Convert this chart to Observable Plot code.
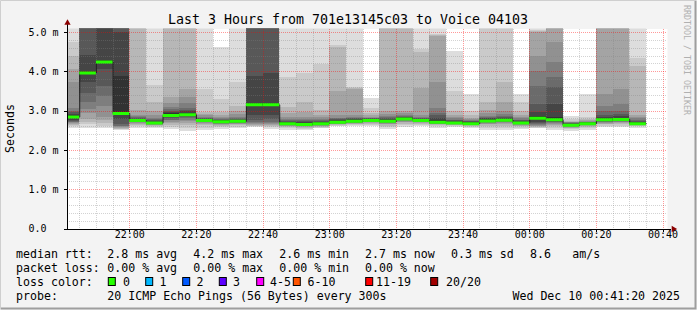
<!DOCTYPE html>
<html><head><meta charset="utf-8">
<script src="https://cdn.jsdelivr.net/npm/d3@7"></script>
<script src="https://cdn.jsdelivr.net/npm/@observablehq/plot@0.6"></script>
<style>
html,body{margin:0;padding:0;background:#f3f3f3;}
#chart{width:697px;height:310px;position:relative;overflow:hidden;}
#chart svg{position:absolute;left:0;top:0;}
</style></head><body><div id="chart"></div>
<script>
// ---- data ----
const stepStarts = ["21:40","21:45","21:50","21:55","22:00","22:05","22:10","22:15","22:20","22:25","22:30","22:35",
  "22:40","22:45","22:50","22:55","23:00","23:05","23:10","23:15","23:20","23:25","23:30","23:35",
  "23:40","23:45","23:50","23:55","00:00","00:05","00:10","00:15","00:20","00:25","00:30"];
const medians = [2.85,3.97,4.25,2.94,2.76,2.70,2.89,2.91,2.76,2.73,2.74,3.16,3.16,2.68,2.66,2.68,2.72,2.74,
  2.76,2.74,2.80,2.76,2.72,2.70,2.68,2.75,2.77,2.70,2.82,2.78,2.64,2.68,2.78,2.79,2.68];
const pings = [
  [2.55,2.60,2.64,2.67,2.69,2.70,2.71,2.73,2.76,2.84,2.88,2.92,2.96,3.00,3.07,3.74,4.05,4.40,4.75,5.40],
  [2.56,2.66,2.70,2.79,2.95,3.04,3.21,3.46,3.72,3.95,4.00,4.42,5.20,5.35,5.50,5.70,5.90,6.20,6.60,7.20],
  [2.55,2.62,2.68,2.75,2.83,3.13,3.38,3.63,4.06,4.23,4.30,5.20,5.30,5.45,5.60,5.80,6.00,6.30,6.70,7.30],
  [2.50,2.52,2.54,2.56,2.58,2.60,2.62,2.66,2.79,2.93,3.89,5.00,5.20,5.35,5.50,5.70,5.90,6.20,6.60,7.20],
  [2.55,2.60,2.64,2.67,2.69,2.70,2.71,2.72,2.74,2.75,2.78,2.79,2.80,2.83,2.87,2.90,3.02,5.30,5.60,6.00],
  [2.56,2.59,2.61,2.63,2.64,2.65,2.66,2.67,2.68,2.69,2.72,2.74,2.76,2.79,2.82,2.90,3.00,3.22,3.66,5.50],
  [2.52,2.58,2.64,2.69,2.72,2.75,2.77,2.80,2.84,2.88,2.93,2.97,3.00,3.04,3.10,3.20,3.34,5.30,5.60,6.00],
  [2.48,2.56,2.63,2.69,2.73,2.77,2.80,2.83,2.86,2.90,2.95,2.98,3.02,3.07,3.20,3.35,3.55,5.30,5.60,6.00],
  [2.50,2.57,2.63,2.67,2.69,2.70,2.71,2.72,2.74,2.75,2.78,2.79,2.80,2.82,2.84,2.88,2.92,2.96,3.55,5.50],
  [2.53,2.58,2.62,2.64,2.66,2.67,2.68,2.69,2.71,2.72,2.75,2.76,2.77,2.78,2.80,2.84,2.88,2.96,3.30,4.63],
  [2.55,2.59,2.63,2.65,2.67,2.68,2.69,2.70,2.72,2.73,2.76,2.77,2.79,2.81,2.85,2.92,3.00,3.13,3.72,5.50],
  [2.58,2.60,2.62,2.64,2.66,2.68,2.72,2.77,2.88,3.14,3.20,3.87,5.20,5.35,5.50,5.70,5.90,6.20,6.60,7.20],
  [2.53,2.58,2.61,2.64,2.66,2.68,2.72,2.78,2.90,3.14,3.20,3.95,5.20,5.35,5.50,5.70,5.90,6.20,6.60,7.20],
  [2.50,2.55,2.58,2.60,2.62,2.63,2.64,2.65,2.66,2.67,2.70,2.72,2.73,2.75,2.78,2.83,2.95,3.08,3.85,5.50],
  [2.50,2.54,2.57,2.59,2.61,2.62,2.63,2.64,2.65,2.66,2.68,2.71,2.73,2.75,2.78,2.85,2.96,3.21,3.97,5.50],
  [2.55,2.57,2.59,2.61,2.62,2.63,2.64,2.65,2.66,2.67,2.70,2.72,2.74,2.76,2.79,2.84,2.90,3.02,4.18,5.50],
  [2.60,2.62,2.64,2.65,2.66,2.67,2.68,2.69,2.70,2.71,2.74,2.76,2.78,2.80,2.82,2.88,3.51,4.62,4.68,5.50],
  [2.60,2.63,2.65,2.67,2.68,2.69,2.70,2.71,2.72,2.73,2.76,2.78,2.80,2.82,2.85,2.90,3.55,3.57,3.59,5.50],
  [2.60,2.64,2.67,2.69,2.70,2.71,2.72,2.73,2.74,2.75,2.78,2.79,2.80,2.81,2.82,2.84,2.88,2.95,3.07,3.32],
  [2.53,2.58,2.62,2.65,2.67,2.69,2.70,2.71,2.72,2.73,2.76,2.78,2.80,2.83,2.87,2.92,3.00,5.30,5.60,6.00],
  [2.58,2.63,2.67,2.70,2.72,2.74,2.76,2.77,2.78,2.79,2.82,2.84,2.85,2.87,2.90,2.95,3.00,5.30,5.60,6.00],
  [2.60,2.63,2.66,2.68,2.70,2.71,2.72,2.73,2.74,2.75,2.78,2.79,2.80,2.82,2.84,2.88,3.58,4.50,4.57,5.50],
  [2.55,2.60,2.63,2.65,2.66,2.67,2.68,2.69,2.70,2.71,2.76,2.82,2.88,2.95,3.07,3.74,4.90,4.93,4.95,5.50],
  [2.58,2.61,2.63,2.64,2.65,2.66,2.67,2.68,2.69,2.69,2.72,2.73,2.75,2.77,2.80,2.84,2.90,2.98,3.50,4.53],
  [2.55,2.58,2.61,2.63,2.64,2.65,2.66,2.67,2.67,2.68,2.70,2.72,2.73,2.74,2.76,2.78,2.82,2.88,3.00,3.43],
  [2.50,2.57,2.62,2.65,2.67,2.69,2.70,2.71,2.73,2.74,2.78,2.80,2.82,2.84,2.87,2.93,3.02,3.23,5.40,5.80],
  [2.50,2.57,2.62,2.66,2.69,2.71,2.72,2.73,2.75,2.76,2.79,2.81,2.84,2.87,2.92,3.00,3.21,3.72,5.40,5.80],
  [2.53,2.57,2.60,2.62,2.64,2.65,2.66,2.67,2.68,2.69,2.72,2.74,2.75,2.77,2.80,2.84,2.90,3.00,3.21,3.42],
  [2.55,2.57,2.59,2.61,2.62,2.64,2.66,2.68,2.72,2.80,2.86,2.96,3.17,3.63,4.00,4.40,5.00,5.03,5.05,5.50],
  [2.50,2.56,2.60,2.63,2.66,2.68,2.70,2.72,2.74,2.77,2.83,3.17,3.60,3.85,4.23,4.74,5.30,5.50,5.80,6.20],
  [2.47,2.52,2.55,2.57,2.59,2.60,2.61,2.62,2.63,2.64,2.66,2.67,2.68,2.69,2.70,2.71,2.72,2.74,2.78,2.86],
  [2.50,2.55,2.58,2.61,2.63,2.64,2.65,2.66,2.67,2.68,2.69,2.70,2.70,2.71,2.72,2.73,2.75,2.78,2.83,3.42],
  [2.58,2.62,2.65,2.67,2.69,2.71,2.72,2.74,2.76,2.77,2.81,2.85,2.90,2.98,3.12,3.43,5.30,5.50,5.80,6.20],
  [2.58,2.62,2.65,2.68,2.70,2.72,2.73,2.75,2.77,2.78,2.82,2.87,2.92,2.98,3.17,3.55,5.30,5.50,5.80,6.20],
  [2.57,2.60,2.62,2.63,2.64,2.65,2.66,2.66,2.67,2.67,2.70,2.72,2.74,2.77,2.80,2.84,2.90,4.14,4.34,5.50]
];
const yTickValues = [0, 1, 2, 3, 4, 5];
const yTickLabels = ["0.0", "1.0 m", "2.0 m", "3.0 m", "4.0 m", "5.0 m"];
const xTickLabels = ["22:00","22:20","22:40","23:00","23:20","23:40","00:00","00:20","00:40"];
const lossColors = [["0","#26ff00"],["1","#00b8ff"],["2","#0059ff"],["3","#5e00ff"],["4-5","#ff00ff"],["6-10","#ff5500"],["11-19","#ff0000"],["20/20","#a00000"]];
const titleText = "Last 3 Hours from 701e13145c03 to Voice 04103";
const yLabel = "Seconds";

// ---- helpers ----
const toDate = hm => { const [h, m] = hm.split(":").map(Number); return new Date(Date.UTC(2025, 11, h < 12 ? 10 : 9, h, m)); };
const tStart = new Date(Date.UTC(2025, 11, 9, 21, 41, 20));
const tEnd = new Date(Date.UTC(2025, 11, 10, 0, 41, 20));
const pxMs = 39.29;
const yTop = 200 / pxMs;
const STEP = 300000;
const pxT = 18000; // one pixel in ms of time (600 px for 3 h)
const shade = i => { const v = Math.floor(190 / 10 * (10 - i)) + 50; return `rgb(${v},${v},${v})`; };

const smoke = [];
stepStarts.forEach((s, c) => {
  const t0 = toDate(s), t1 = new Date(+t0 + STEP), p = pings[c];
  for (let i = 1; i <= 10; i++) smoke.push({t0, t1, lo: p[i - 1], hi: p[20 - i], fill: shade(i)});
});
const med = stepStarts.map((s, c) => ({t0: toDate(s), t1: new Date(+toDate(s) + STEP), v: medians[c]}));
const medLine = med.map(d => ({t: d.t0, v: d.v})).concat([{t: med[med.length - 1].t1, v: medians[medians.length - 1]}]);

const xMajor = xTickLabels.map(toDate);
const xMinor = [];
for (let t = +toDate("21:45"); t <= +tEnd; t += STEP) if (!xMajor.some(d => +d === t)) xMinor.push(new Date(t));
const yMinor = d3.range(1, 26).map(k => k / 5).filter(v => Math.abs(v - Math.round(v)) > 1e-6);

const FONT = "DejaVu Sans Mono";
const svg = Plot.plot({
  width: 697, height: 310,
  marginLeft: 67, marginRight: 30, marginTop: 28.5, marginBottom: 81.5,
  style: {background: "transparent", fontFamily: FONT, overflow: "visible"},
  x: {type: "utc", domain: [tStart, tEnd], axis: null},
  y: {domain: [0, yTop], axis: null},
  marks: [
    Plot.frame({fill: "#ffffff", stroke: "none"}),
    Plot.rect(smoke, {x1: "t0", x2: "t1", y1: "lo", y2: "hi", fill: "fill", clip: true, shapeRendering: "crispEdges"}),
    Plot.ruleY(yMinor, {stroke: "#808080", strokeOpacity: 0.35, strokeDasharray: "1,1", shapeRendering: "crispEdges"}),
    Plot.ruleX(xMinor, {stroke: "#808080", strokeOpacity: 0.35, strokeDasharray: "1,1", shapeRendering: "crispEdges"}),
    Plot.ruleY(yTickValues.slice(1), {stroke: "#ff0000", strokeOpacity: 0.4, strokeDasharray: "1,1", shapeRendering: "crispEdges"}),
    Plot.ruleX(xMajor, {stroke: "#ff0000", strokeOpacity: 0.4, strokeDasharray: "1,1", shapeRendering: "crispEdges"}),
    Plot.line(medLine, {x: "t", y: "v", curve: "step-after", stroke: "#202020", strokeWidth: 1, clip: true}),
    Plot.ruleY(med, {y: "v", x1: "t0", x2: "t1", stroke: "#26ff00", strokeWidth: 3, clip: true}),
    // axes
    Plot.ruleY([0], {stroke: "#000", insetRight: -4, shapeRendering: "crispEdges"}),
    Plot.ruleX([tStart], {stroke: "#000", insetTop: -5, shapeRendering: "crispEdges"}),
    Plot.ruleY(yTickValues, {y: d => d, x1: new Date(+tStart - 3 * pxT), x2: tStart, stroke: "#000", shapeRendering: "crispEdges"}),
    Plot.ruleX(xMajor, {x: d => d, y1: -3 / pxMs, y2: 0, stroke: "#000", shapeRendering: "crispEdges"}),
    Plot.dot([tStart], {x: d => d, y: yTop, symbol: "triangle2", r: 3, fill: "#8b0000", stroke: "none", dy: -6}),
    Plot.dot([tEnd], {x: d => d, y: 0, symbol: "triangle2", r: 3, fill: "#8b0000", stroke: "none", rotate: 90, dx: 6}),
    Plot.text(yTickValues, {y: d => d, text: (d, i) => yTickLabels[i], frameAnchor: "left", textAnchor: "start", dx: -39, fontSize: 10, fill: "#000", fontFamily: FONT}),
    Plot.text(xMajor, {x: d => d, text: (d, i) => xTickLabels[i], frameAnchor: "bottom", dy: 8.5, fontSize: 10, fill: "#000", fontFamily: FONT})
  ]
});
document.getElementById("chart").appendChild(svg);

// ---- title, labels, legend ----
const g = d3.select(svg).append("g").attr("font-family", FONT).attr("fill", "#000").attr("text-anchor", "start");
g.append("text").attr("x", 348).attr("y", 24).attr("text-anchor", "middle").attr("font-size", 13.3).text(titleText);
g.append("text").attr("transform", "translate(14,128.5) rotate(-90)").attr("text-anchor", "middle").attr("font-size", 11.6).text(yLabel);
g.append("text").attr("transform", "translate(684,5) rotate(90)").attr("text-anchor", "start").attr("font-size", 8.3).attr("fill", "#b0b0b0").text("RRDTOOL / TOBI OETIKER");

const FS = 11.6;
const row = (y, items) => items.forEach(([x, t]) => g.append("text").attr("x", x).attr("y", y).attr("text-anchor", "start").attr("font-size", FS).text(t));
row(257.5, [[16, "median rtt:"], [107.3, "2.8 ms avg"], [193.3, "4.2 ms max"], [279.3, "2.6 ms min"], [365, "2.7 ms now"], [451, "0.3 ms sd"], [530, "8.6"], [572.3, "am/s"]]);
row(272, [[16, "packet loss:"], [107.3, "0.00 % avg"], [193.3, "0.00 % max"], [279.3, "0.00 % min"], [365, "0.00 % now"]]);
row(286.2, [[16, "loss color:"]]);
const boxX = [108.3, 145.7, 182.7, 219.3, 256.7, 293.3, 365.7, 430.7];
const labX = [123, 159.5, 196.5, 233, 270, 307.5, 376, 446];
lossColors.forEach(([lab, col], i) => {
  g.append("rect").attr("x", boxX[i]).attr("y", 277.5).attr("width", 7).attr("height", 8).attr("fill", col).attr("stroke", "#000").attr("stroke-width", 1);
  g.append("text").attr("x", labX[i]).attr("y", 286.2).attr("text-anchor", "start").attr("font-size", FS).text(lab);
});
row(300.4, [[16, "probe:"], [107.3, "20 ICMP Echo Pings (56 Bytes) every 300s"]]);
g.append("text").attr("x", 680).attr("y", 300.4).attr("text-anchor", "end").attr("font-size", FS).text("Wed Dec 10 00:41:20 2025");

// frame
const fr = d3.select(svg).append("g").attr("fill", "none");
fr.append("path").attr("d", "M0.5,309.5V0.5H696.5").attr("stroke", "#cfcfcf");
fr.append("path").attr("d", "M1,308.5H695.5V1").attr("stroke", "#9e9e9e").attr("stroke-width", 2);
</script></body></html>
